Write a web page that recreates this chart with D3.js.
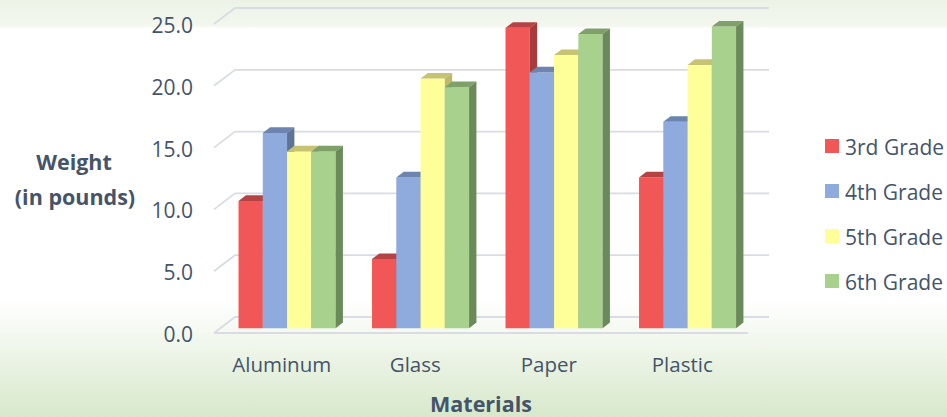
<!DOCTYPE html>
<html>
<head>
<meta charset="utf-8">
<script src="https://cdn.jsdelivr.net/npm/d3@7"></script>
<style>
  body { margin: 0; overflow: hidden; }
  text { font-family: "Open Sans", sans-serif; fill: #44546A; }
</style>
</head>
<body>
<div id="chart"></div>
<script>
// data
var materials = ["Aluminum", "Glass", "Paper", "Plastic"];
var grades = ["3rd Grade", "4th Grade", "5th Grade", "6th Grade"];
var grade3 = [10.3, 5.6, 24.3, 12.2];
var grade4 = [15.8, 12.2, 20.7, 16.7];
var grade5 = [14.3, 20.2, 22.1, 21.3];
var grade6 = [14.3, 19.5, 23.8, 24.4];
var yTicks = [0, 5, 10, 15, 20, 25];

var seriesValues = [grade3, grade4, grade5, grade6];
var colors = [
  { front: "#F25757", top: "#B54343", side: "#A83B3B" },
  { front: "#8FAADC", top: "#6C84AE", side: "#5E7396" },
  { front: "#FFFF99", top: "#C6C372", side: "#BDB96B" },
  { front: "#A9D18E", top: "#7FA068", side: "#6B8A59" }
];

var svgWidth = 947;
var svgHeight = 417;

// depth of the 3d box (offset of the back wall)
var depthX = 21;
var depthY = -16;
var barFront = 0.3;
var barBack = 0.65;

var svg = d3.select("#chart")
  .append("svg")
  .attr("width", svgWidth)
  .attr("height", svgHeight);

// background gradient
var defs = svg.append("defs");
var grad = defs.append("linearGradient")
  .attr("id", "bg")
  .attr("x1", 0).attr("y1", 0).attr("x2", 0).attr("y2", 1);
[[0, "#ECF3E6"], [0.062, "#F3F7EF"], [0.068, "#FFFFFF"], [0.72, "#FFFFFF"], [1, "#D7E8CB"]]
  .forEach(function(s) {
    grad.append("stop").attr("offset", s[0]).attr("stop-color", s[1]);
  });
svg.append("rect")
  .attr("width", svgWidth)
  .attr("height", svgHeight)
  .attr("fill", "url(#bg)");

// scales at the front of the box
var xScale = d3.scaleBand()
  .domain(materials)
  .range([214, 748])
  .paddingInner(0.273)
  .paddingOuter(0.1365);

var xInner = d3.scaleBand()
  .domain(d3.range(grades.length))
  .range([0, xScale.bandwidth()]);

var yScale = d3.scaleLinear()
  .domain([0, 25])
  .range([333, 24]);

var x0 = 214, x1 = 748;

// gridlines: side wall diagonals + back wall
var grid = svg.append("g")
  .attr("stroke", "#D9DCE3")
  .attr("stroke-width", 1.8)
  .attr("fill", "none");

grid.selectAll("path.grid")
  .data(yTicks)
  .enter()
  .append("path")
  .attr("d", function(t) {
    var y = yScale(t);
    return "M" + x0 + "," + y +
      "L" + (x0 + depthX) + "," + (y + depthY) +
      "L" + (x1 + depthX) + "," + (y + depthY);
  });

// front edge of the floor
grid.append("line")
  .attr("x1", x0).attr("x2", x1)
  .attr("y1", yScale(0)).attr("y2", yScale(0));

// y tick labels
svg.selectAll("text.ytick")
  .data(yTicks)
  .enter()
  .append("text")
  .attr("class", "ytick")
  .attr("x", 193)
  .attr("y", function(t) { return yScale(t) + 1; })
  .attr("text-anchor", "end")
  .attr("dominant-baseline", "central")
  .attr("font-size", "21px")
  .text(function(t) { return d3.format(".1f")(t); });

// bars, drawn left to right so each front hides the previous side
var bars = svg.append("g");
var fx = depthX * barFront, fy = depthY * barFront;
var bx = depthX * barBack, by = depthY * barBack;

materials.forEach(function(m, i) {
  seriesValues.forEach(function(vals, s) {
    var v = vals[i];
    var left = xScale(m) + xInner(s) + fx;
    var right = left + xInner.bandwidth();
    var top = yScale(v) + fy;
    var base = yScale(0) + fy;
    var dx = bx - fx, dy = by - fy;
    var c = colors[s];

    bars.append("path")
      .attr("fill", c.front)
      .attr("d", "M" + left + "," + base + "L" + left + "," + top +
        "L" + right + "," + top + "L" + right + "," + base + "Z");

    bars.append("path")
      .attr("fill", c.top)
      .attr("d", "M" + left + "," + top + "L" + (left + dx) + "," + (top + dy) +
        "L" + (right + dx) + "," + (top + dy) + "L" + right + "," + top + "Z");

    bars.append("path")
      .attr("fill", c.side)
      .attr("d", "M" + right + "," + base + "L" + right + "," + top +
        "L" + (right + dx) + "," + (top + dy) + "L" + (right + dx) + "," + (base + dy) + "Z");
  });
});

// category labels
svg.selectAll("text.xcat")
  .data(materials)
  .enter()
  .append("text")
  .attr("class", "xcat")
  .attr("x", function(m) { return xScale(m) + xScale.bandwidth() / 2 + 1; })
  .attr("y", 364)
  .attr("text-anchor", "middle")
  .attr("dominant-baseline", "central")
  .attr("font-size", "20.5px")
  .text(function(m) { return m; });

// axis titles
svg.append("text")
  .attr("x", 481)
  .attr("y", 403)
  .attr("text-anchor", "middle")
  .attr("dominant-baseline", "central")
  .attr("font-size", "21.5px")
  .attr("font-weight", "bold")
  .text("Materials");

var yTitle = svg.append("text")
  .attr("text-anchor", "middle")
  .attr("font-size", "21.5px")
  .attr("font-weight", "bold");
yTitle.append("tspan").attr("x", 74).attr("y", 170).text("Weight");
yTitle.append("tspan").attr("x", 75).attr("y", 205).text("(in pounds)");

// legend
var legend = svg.selectAll("g.legend")
  .data(grades)
  .enter()
  .append("g")
  .attr("class", "legend")
  .attr("transform", function(d, i) { return "translate(825," + (146 + i * 45) + ")"; });

legend.append("rect")
  .attr("x", 0)
  .attr("y", -7)
  .attr("width", 14)
  .attr("height", 14)
  .attr("fill", function(d, i) { return colors[i].front; });

legend.append("text")
  .attr("x", 20)
  .attr("y", 1)
  .attr("dominant-baseline", "central")
  .attr("font-size", "21px")
  .text(function(d) { return d; });
</script>
</body>
</html>
